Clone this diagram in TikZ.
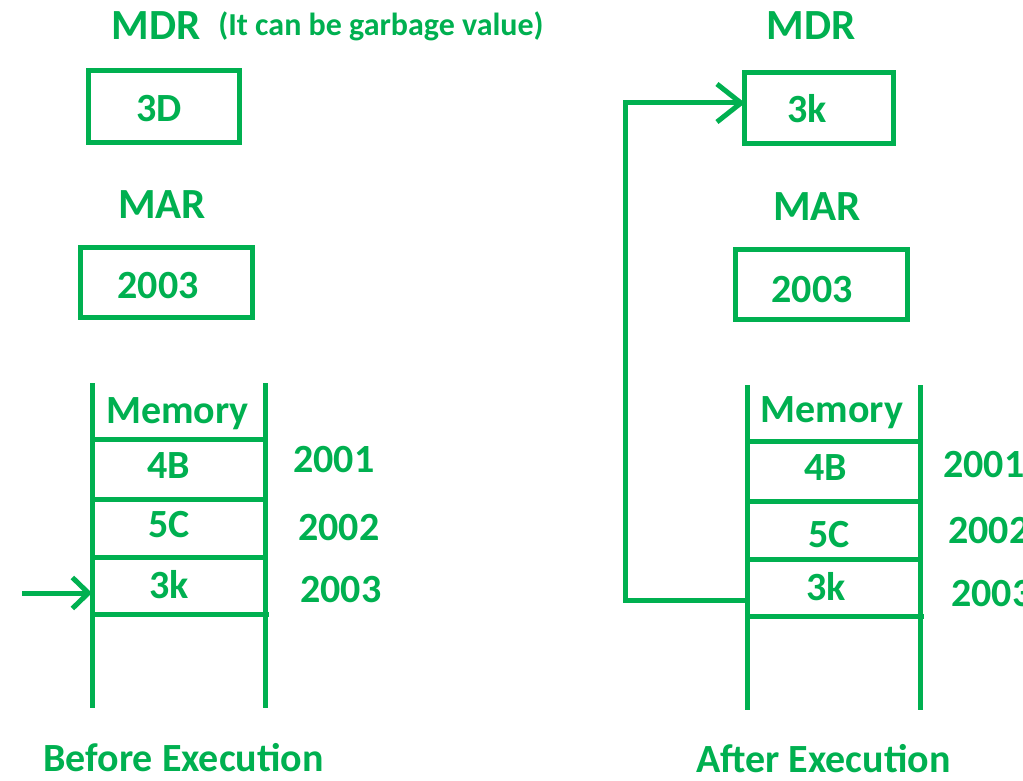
\documentclass[tikz,border=0pt]{standalone}
\usepackage{fontspec}
\setmainfont{Carlito}
\usetikzlibrary{arrows.meta}
\definecolor{gr}{HTML}{00B050}
\begin{document}
\begin{tikzpicture}[x=1pt,y=-1pt,
  txt/.style={text=gr,font=\bfseries\fontsize{40}{40}\selectfont,inner sep=0pt,anchor=base},
  big/.style={txt,font=\bfseries\fontsize{43}{43}\selectfont},
  small/.style={txt,font=\bfseries\fontsize{32}{32}\selectfont},
  reg/.style={draw=gr,line width=5pt,inner sep=0pt},
  ln/.style={draw=gr,line width=5pt},
  arrL/.style={ln,-{Straight Barb[length=16pt,width=31pt]}},
  arrR/.style={ln,-{Straight Barb[length=24pt,width=38pt]}}]
\useasboundingbox (0,0) rectangle (1023,781);
\clip (0,0) rectangle (1023,781);

% ---------- Before ----------
\node[big] (mdrLt) at (156,40) {MDR};
\node[small] (garb) at (381,36) {(It can be garbage value)};
\node[reg,minimum width=151pt,minimum height=72pt] (mdrL) at (164,106.5) {};
\node[txt] (mdrLv) at (159,122) {3D};
\node[big] (marLt) at (162,218) {MAR};
\node[reg,minimum width=172pt,minimum height=70pt] (marL) at (166.5,282.5) {};
\node[txt] (marLv) at (158,298) {2003};

\coordinate (lA1) at (92,383); \coordinate (lA2) at (92,708);
\coordinate (lB1) at (265,383); \coordinate (lB2) at (265,708);
\draw[ln] (lA1) -- (lA2);
\draw[ln] (lB1) -- (lB2);
\coordinate (lh1a) at (92,439); \coordinate (lh1b) at (265,439);
\coordinate (lh2a) at (92,499); \coordinate (lh2b) at (265,499);
\coordinate (lh3a) at (92,557); \coordinate (lh3b) at (265,557);
\coordinate (lh4a) at (92,614); \coordinate (lh4b) at (269,614);
\draw[ln] (lh1a) -- (lh1b);
\draw[ln] (lh2a) -- (lh2b);
\draw[ln] (lh3a) -- (lh3b);
\draw[ln] (lh4a) -- (lh4b);
\node[txt] (lmem) at (177.5,423) {Memory};
\node[txt] (l4b) at (169,478) {4B};
\node[txt] (l5c) at (169,537) {5C};
\node[txt] (l3k) at (169,598) {3k};
\node[txt,anchor=base west] (la1) at (293,472) {2001};
\node[txt,anchor=base west] (la2) at (298,540) {2002};
\node[txt,anchor=base west] (la3) at (300,602) {2003};
\coordinate (lin) at (22,593);
\coordinate (lcell) at (92,593);
\draw[arrL] (lin) -- (lcell);
\node[txt] (before) at (183.5,771) {Before Execution};

% ---------- After ----------
\node[big] (mdrRt) at (811,40) {MDR};
\node[reg,minimum width=149pt,minimum height=71pt] (mdrR) at (819,108) {};
\node[txt] (mdrRv) at (807,123) {3k};
\node[big] (marRt) at (817,220) {MAR};
\node[reg,minimum width=172pt,minimum height=70pt] (marR) at (821.5,284.5) {};
\node[txt] (marRv) at (812,302) {2003};

\coordinate (rA1) at (747,385); \coordinate (rA2) at (747,710);
\coordinate (rB1) at (920,385); \coordinate (rB2) at (920,710);
\draw[ln] (rA1) -- (rA2);
\draw[ln] (rB1) -- (rB2);
\coordinate (rh1a) at (747,441); \coordinate (rh1b) at (920,441);
\coordinate (rh2a) at (747,501); \coordinate (rh2b) at (920,501);
\coordinate (rh3a) at (747,559); \coordinate (rh3b) at (920,559);
\coordinate (rh4a) at (747,616); \coordinate (rh4b) at (924,616);
\draw[ln] (rh1a) -- (rh1b);
\draw[ln] (rh2a) -- (rh2b);
\draw[ln] (rh3a) -- (rh3b);
\draw[ln] (rh4a) -- (rh4b);
\node[txt] (rmem) at (832,422) {Memory};
\node[txt] (r4b) at (826,480) {4B};
\node[txt] (r5c) at (829,547) {5C};
\node[txt] (r3k) at (826,600) {3k};
\node[txt,anchor=base west] (ra1) at (943,477) {2001};
\node[txt,anchor=base west] (ra2) at (948,543) {2002};
\node[txt,anchor=base west] (ra3) at (951,606) {2003};
\coordinate (rout) at (745,600);
\coordinate (rin) at (745,103);
\draw[arrR] (rout) -- (625,600) |- (rin);
\node[txt] (after) at (823.5,772) {After Execution};
\end{tikzpicture}
\end{document}
